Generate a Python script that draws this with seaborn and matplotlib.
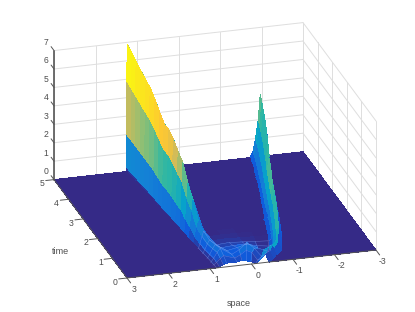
import numpy as np
import seaborn as sns
import matplotlib
matplotlib.use('Agg')
import matplotlib.pyplot as plt
from mpl_toolkits.mplot3d import proj3d

# values, one entry per time row
times = [0, .15, .3, .5, .75, 1, 1.25, 1.5, 1.75, 2, 2.25, 2.5, 2.75, 3, 3.25, 3.5, 3.75, 4, 4.25, 4.5, 4.75, 5]
left_foot_x = [.87, .88, .89, .90, .92, .94, .96, .98, 1.0, 1.02, 1.04, 1.06, 1.08, 1.10, 1.115, 1.13, 1.15, 1.17, 1.19, 1.21, 1.23, 1.25]
left_ridge_x = [.60, .62, .65, .70, .75, .80, .84, .88, .915, .95, .975, 1.0, 1.025, 1.05, 1.075, 1.10, 1.125, 1.15, 1.175, 1.20, 1.22, 1.24]
left_ridge_z = [.2, .45, .7, .7, .7, .92, 1.2, 2.1, 2.72, 3.6, 3.93, 4.33, 4.6, 4.67, 5.07, 5.5, 5.85, 6.03, 6.26, 6.49, 6.7, 6.9]
left_rear_x = [.35, .35, .37, .42, .47, .5, .54, .58, .61, .65, .68, .7, .72, .75, .78, .8, .82, .85, .88, .9, .92, .94]
left_rear_z = [.2, .25, .3, .3, .2, .1, .05, 0, 0, 0, 0, 0, 0, 0, 0, 0, 0, 0, 0, 0, 0, 0]
left_shares = [0, .03, .29, .71, 1]
left_x_shares = [0, .1, .35, .7, 1]

mid_z = [[.25, .2, .15], [.4, .6, .45], [.5, .85, .5], [.4, .55, .25], [.25, .25, .1],
         [.15, .1, .05], [.08, .05, .02], [.03, .02, 0], [0, 0, 0], [0, 0, 0], [0, 0, 0],
         [0, 0, 0], [0, 0, 0], [0, 0, 0], [0, 0, 0], [0, 0, 0], [0, 0, 0], [0, 0, 0],
         [0, 0, 0], [0, 0, 0], [0, 0, 0], [0, 0, 0]]
mid_shares = [.25, .5, .75]

right_foot_x = [-.1, -.2, -.35, -.58, -.68, -.75, -.82, -.88, -.94, -1.0, -1.07, -1.14, -1.2, -1.27, -1.33, -1.39, -1.45, -1.5, -1.56, -1.62, -1.67, -1.72]
right_ridge_x = [-.3, -.45, -.6, -.8, -.9, -1, -1.08, -1.16, -1.23, -1.3, -1.37, -1.43, -1.49, -1.55, -1.61, -1.66, -1.72, -1.77, -1.82, -1.87, -1.92, -1.97]
right_ridge_z = [.7, .6, .55, .5, .55, .6, .65, .7, .72, .75, .8, .85, .92, 1.0, 1.25, 1.6, 2.0, 2.5, 2.8, 3.0, 3.2, 3.37]
right_rear_gap = [.12, .12, .1, .1, .08, .08, .08, .07, .07, .07, .06, .06, .06, .06, .06, .06, .06, .05, .05, .05, .05, .05]
right_shares = [0, .1, .3, .6, 1]
right_x_shares = [0, .3, .55, .8, 1]
right_strip_shade = [.12, .22, .34, .48, .12]
right_row_shade = [.5, .6, .7, .8, .85, .9, 1, 1, 1, 1, 1, 1, 1.05, 1.1, 1.1, 1.1, 1.05, 1, 1, 1, 1.05, 1.15]

# height to colour position
shade_height = [0, .5, 1.1, 2, 3, 3.5, 4, 4.6, 5.8, 7]
shade_value = [0, .17, .28, .45, .62, .75, .86, .9, .98, 1]

x_ticks = [3, 2, 1, 0, -1, -2, -3]
t_ticks = [0, 1, 2, 3, 4, 5]
z_ticks = [0, 1, 2, 3, 4, 5, 6, 7]

parula_hex = ['#352a87', '#0f5cdd', '#1481d6', '#06a4ca', '#2eb7a4',
              '#87bf77', '#d1bb59', '#fec832', '#f9fb0e']

GRID = '#dedede'
AXIS = '#555555'
TEXT = '#4d4d4d'


def build_mesh():
    """stack the read stations of every time row into X, Y, Z"""
    X, Z = [], []
    for i, t in enumerate(times):
        row_x = [3.0, 2.0]
        row_z = [0.0, 0.0]
        for s, f in zip(left_x_shares, left_shares):
            row_x.append(left_foot_x[i] + s * (left_ridge_x[i] - left_foot_x[i]))
            row_z.append(f * left_ridge_z[i])
        row_x.append(left_rear_x[i])
        row_z.append(left_rear_z[i])
        for s, m in zip(mid_shares, mid_z[i]):
            row_x.append(left_rear_x[i] + s * (right_foot_x[i] - left_rear_x[i]))
            row_z.append(m)
        for s, f in zip(right_x_shares, right_shares):
            row_x.append(right_foot_x[i] + s * (right_ridge_x[i] - right_foot_x[i]))
            row_z.append(f * right_ridge_z[i])
        row_x.append(right_ridge_x[i] - right_rear_gap[i])
        row_z.append(0.0)
        row_x.extend([-2.5, -3.0])
        row_z.extend([0.0, 0.0])
        X.append(row_x)
        Z.append(row_z)
    X = np.array(X)
    Z = np.array(Z)
    Y = np.tile(np.array(times)[:, None], (1, X.shape[1]))
    return X, Y, Z


def facet_colors(Z, cmap):
    nrow, ncol = Z.shape
    mean = (Z[:-1, :-1] + Z[1:, :-1] + Z[:-1, 1:] + Z[1:, 1:]) / 4
    shade = np.zeros_like(Z)
    shade[:-1, :-1] = np.interp(mean, shade_height, shade_value)
    # right hand peak runs on its own shades
    first = ncol - 8
    for k, v in enumerate(right_strip_shade):
        for r in range(nrow - 1):
            shade[r, first + k] = min(v * right_row_shade[r + 1], 1)
    return cmap(shade)


sns.set_theme(style='white')
plt.rcParams['font.family'] = ['Liberation Sans', 'DejaVu Sans']

parula = sns.blend_palette(parula_hex, n_colors=256, as_cmap=True)

fig = plt.figure(figsize=(4.15, 3.12), dpi=100)
ax = fig.add_axes([0, 0, 1, 1], projection='3d', proj_type='ortho', computed_zorder=False)
ax.set_box_aspect((259, 263, 140), zoom=.8)
ax.view_init(elev=22.9, azim=-106.1)
ax.set_xlim(3, -3)
ax.set_ylim(0, 5)
ax.set_zlim(0, 7)
ax.set_axis_off()
ax.patch.set_alpha(0)

# back walls
for v in x_ticks:
    ax.plot([v, v], [5, 5], [0, 7], color=GRID, lw=.7, zorder=1)
for v in t_ticks:
    ax.plot([-3, -3], [v, v], [0, 7], color=GRID, lw=.7, zorder=1)
for v in z_ticks:
    ax.plot([3, -3], [5, 5], [v, v], color=GRID, lw=.7, zorder=1)
    ax.plot([-3, -3], [5, 0], [v, v], color=GRID, lw=.7, zorder=1)

X, Y, Z = build_mesh()
ax.plot_surface(X, Y, Z, facecolors=facet_colors(Z, parula), rstride=1, cstride=1,
                shade=False, linewidth=0, antialiased=False, zorder=2)

# pale mesh lines where the reference shows its grid, low time rows only
for r in range(1, 6):
    ax.plot(X[r, 2:13], Y[r, 2:13], Z[r, 2:13], color='#8fa6f2', lw=.3, alpha=.6, zorder=2.5)
for c in range(3, 12):
    ax.plot(X[:6, c], Y[:6, c], Z[:6, c], color='#8fa6f2', lw=.3, alpha=.6, zorder=2.5)

# axis lines and ticks
ax.plot([3, 3], [5, 5], [0, 7], color=AXIS, lw=1.2, zorder=3)
ax.plot([3, -3], [0, 0], [0, 0], color=AXIS, lw=.7, zorder=3)
ax.plot([3, 3], [0, 5], [0, 0], color=AXIS, lw=.7, zorder=3)
for v in x_ticks:
    ax.plot([v, v], [0, -.25], [0, 0], color=AXIS, lw=.7, zorder=3)
for v in t_ticks:
    ax.plot([3, 3.2], [v, v], [0, 0], color=AXIS, lw=.7, zorder=3)
for v in z_ticks:
    ax.plot([3, 3], [5, 5.2], [v, v], color=AXIS, lw=.7, zorder=3)

# fit the box onto the picture: corner x=3,t=0 and x=-3,t=0
fig.canvas.draw()
M = ax.get_proj()
def to_px(x, y, z):
    px, py, _ = proj3d.proj_transform(x, y, z, M)
    return ax.transData.transform((px, py))
a = to_px(3, 0, 0)
b = to_px(-3, 0, 0)
scale = 249.0 / (b[0] - a[0])
w, h = fig.get_size_inches() * fig.dpi
ax.set_position([(127 - a[0] * scale) / w, ((312 - 278) - a[1] * scale) / h, scale, scale])
fig.canvas.draw()
M = ax.get_proj()

def tick_label(x, y, z, s):
    px = to_px(x, y, z)
    fig.text(px[0] / w, px[1] / h, s, color=TEXT, fontsize=6.2, ha='center', va='center')

for v in x_ticks:
    tick_label(v, -.45, -.12, str(v))
for v in t_ticks:
    tick_label(3.29, v, -.15, str(v))
for v in z_ticks:
    tick_label(3, 5.55, v - .15, str(v))

fig.text(60 / w, 1 - 252 / h, 'time', color=TEXT, fontsize=6.5, ha='center', va='center')
fig.text(239 / w, 1 - 303 / h, 'space', color=TEXT, fontsize=6.5, ha='center', va='center')

fig.savefig('out.png', dpi=100)
